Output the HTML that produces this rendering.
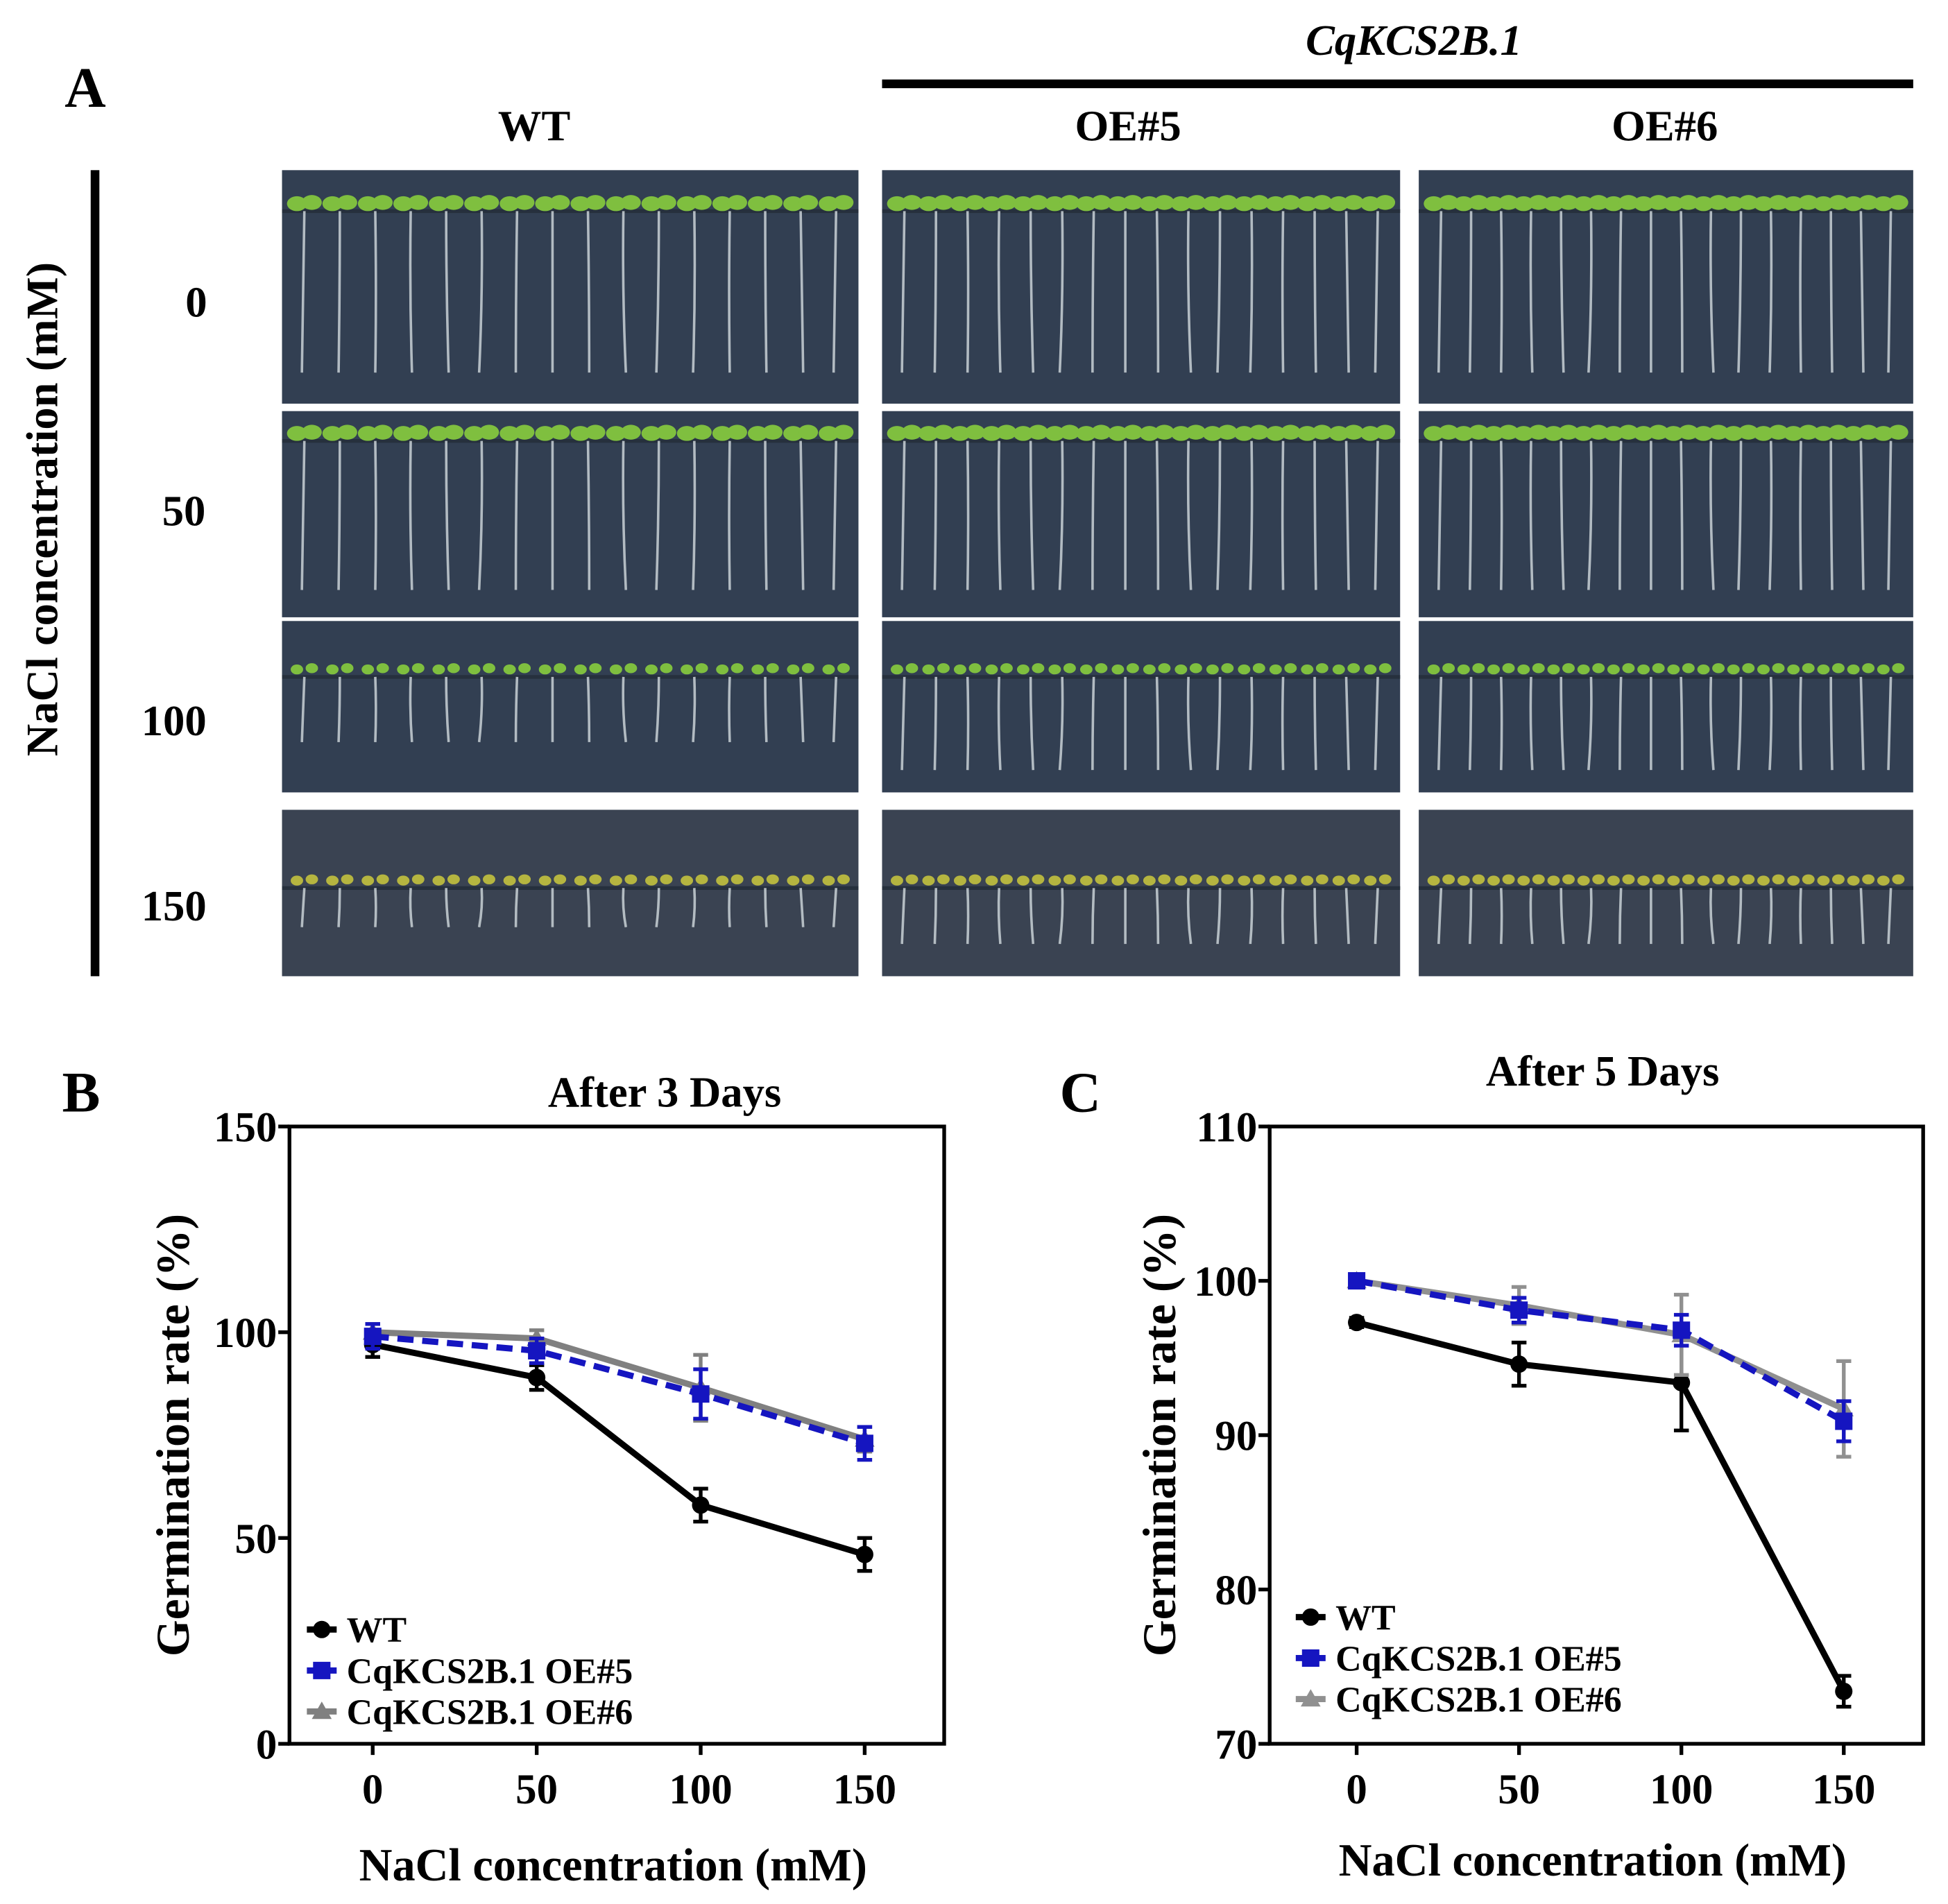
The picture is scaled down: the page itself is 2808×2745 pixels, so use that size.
<!DOCTYPE html>
<html><head><meta charset="utf-8">
<style>
html,body{margin:0;padding:0;background:#fff;}
svg{display:block;}
text{font-family:"Liberation Serif",serif;font-weight:bold;fill:#000;}
</style></head>
<body>
<svg id="fig" width="2808" height="2745" viewBox="0 0 1568 1533" preserveAspectRatio="none" xmlns="http://www.w3.org/2000/svg">
<g id="panelA">
  <text x="52" y="86" font-size="46">A</text>
  <text x="1138" y="44" font-size="35" text-anchor="middle" font-style="italic">CqKCS2B.1</text>
  <rect x="710" y="64" width="830" height="7" fill="#000"/>
  <text x="430" y="113" font-size="35" text-anchor="middle">WT</text>
  <text x="908" y="113" font-size="35" text-anchor="middle">OE#5</text>
  <text x="1340" y="113" font-size="35" text-anchor="middle">OE#6</text>
  <rect x="73" y="137" width="7" height="649" fill="#000"/>
  <text transform="translate(46,410) rotate(-90)" font-size="36" text-anchor="middle">NaCl concentration (mM)</text>
  <text x="158" y="255" font-size="35" text-anchor="middle">0</text>
  <text x="148" y="423" font-size="35" text-anchor="middle">50</text>
  <text x="140" y="592" font-size="35" text-anchor="middle">100</text>
  <text x="140" y="741" font-size="35" text-anchor="middle">150</text>
  <g id="photos"></g>
</g>
<g id="chartB"></g>
<g id="chartC"></g>
</svg>
<script>
// ----- Chart data -----
const categories = [0, 50, 100, 150];
const bWT = [97, 89, 58, 46];
const bWTerr = [3, 3, 4, 4];
const bOE5 = [99, 95.5, 85, 73];
const bOE5err = [3, 3, 6, 4];
const bOE6 = [100, 98.5, 86.5, 74];
const bOE6err = [2, 2, 8, 3];
const bTicks = [0, 50, 100, 150];
const cWT = [97.3, 94.6, 93.4, 73.4];
const cWTerr = [0.3, 1.4, 3.1, 1.0];
const cOE5 = [100, 98.1, 96.8, 90.9];
const cOE5err = [0.2, 0.8, 1.0, 1.3];
const cOE6 = [100, 98.4, 96.5, 91.7];
const cOE6err = [0.2, 1.2, 2.6, 3.1];
const cTicks = [70, 80, 90, 100, 110];
const legendLabels = ["WT", "CqKCS2B.1 OE#5", "CqKCS2B.1 OE#6"];

const NS = "http://www.w3.org/2000/svg";
function mk(tag, attrs, parent) {
  const e = document.createElementNS(NS, tag);
  for (const k in attrs) e.setAttribute(k, attrs[k]);
  parent.appendChild(e);
  return e;
}

// ----- Photo panels (decorative) -----
const photos = document.getElementById('photos');
const cols = [[227, 691], [710, 1127], [1142, 1540]];
const rows = [[137, 325, 170], [331, 497, 355], [500, 638, 545], [652, 786, 715]];
rows.forEach((r, ri) => {
  cols.forEach((c, ci) => {
    const g = mk('g', {}, photos);
    
    
    mk('rect', {x: c[0], y: r[0], width: c[1] - c[0], height: r[1] - r[0], fill: ri === 3 ? '#3a4352' : '#323f52'}, g);
    mk('line', {x1: c[0], y1: r[2], x2: c[1], y2: r[2], stroke: '#26303d', 'stroke-width': 3}, g);
    const n = 16;
    const len = [130, 120, 75, 45][ri] * (ci === 0 && ri >= 2 ? 0.7 : 1);
    for (let i = 0; i < n; i++) {
      const x = c[0] + 18 + i * (c[1] - c[0] - 36) / (n - 1);
      mk('path', {d: `M${x} ${r[2]} q${(i % 3) - 1} ${len / 2} ${(i % 5) - 2} ${len}`, stroke: '#c9d1d6', 'stroke-width': 2, fill: 'none', opacity: 0.85}, g);
      const leaf = ri === 3 ? '#b5b540' : '#7fbf3f';
      mk('ellipse', {cx: x - 6, cy: r[2] - 6, rx: ri >= 2 ? 5 : 8, ry: ri >= 2 ? 4 : 6, fill: leaf}, g);
      mk('ellipse', {cx: x + 6, cy: r[2] - 7, rx: ri >= 2 ? 5 : 8, ry: ri >= 2 ? 4 : 6, fill: leaf}, g);
    }
  });
});

// ----- Chart builder -----
function drawChart(gid, cfg) {
  const g = document.getElementById(gid);
  const {x0, x1, y0, y1, ymin, ymax, xpos, ticks, series, legendOrder, title, titleX, titleY, panel, panelX, panelY, ylabX, xlabY, legX, legY, legGap} = cfg;
  const sy = v => y1 - (v - ymin) / (ymax - ymin) * (y1 - y0);
  const sx = i => xpos[0] + i * (xpos[1] - xpos[0]);
  let e;
  e = mk('text', {x: panelX, y: panelY, 'font-size': 46}, g); e.textContent = panel;
  
  
  e = mk('text', {x: titleX, y: titleY, 'font-size': 35, 'text-anchor': 'middle'}, g); e.textContent = title;
  
  
  e = mk('rect', {x: x0, y: y0, width: x1 - x0, height: y1 - y0, fill: 'none', stroke: '#000', 'stroke-width': 3}, g);
  
  
  ticks.forEach(t => {
    const y = sy(t);
    mk('line', {x1: x0 - 9, x2: x0, y1: y, y2: y, stroke: '#000', 'stroke-width': 3}, g);
    e = mk('text', {x: x0 - 10, y: y + 12, 'font-size': 34, 'text-anchor': 'end'}, g); e.textContent = t;
    
    
  });
  categories.forEach((c, i) => {
    const x = sx(i);
    mk('line', {x1: x, x2: x, y1: y1, y2: y1 + 9, stroke: '#000', 'stroke-width': 3}, g);
    e = mk('text', {x: x, y: y1 + 48, 'font-size': 34, 'text-anchor': 'middle'}, g); e.textContent = c;
    
    
  });
  e = mk('text', {transform: `translate(${ylabX},${(y0 + y1) / 2}) rotate(-90)`, 'font-size': 38, 'text-anchor': 'middle'}, g);
  e.textContent = 'Germination rate (%)';
  
  
  e = mk('text', {x: (x0 + x1) / 2 - 3, y: xlabY, 'font-size': 37, 'text-anchor': 'middle'}, g);
  e.textContent = 'NaCl concentration (mM)';
  
  
  series.forEach(s => {
    const sg = mk('g', {}, g);
    
    
    const pts = s.vals.map((v, i) => sx(i) + ',' + sy(v)).join(' ');
    const attrs = {points: pts, fill: 'none', stroke: s.color, 'stroke-width': 5};
    if (s.dash) attrs['stroke-dasharray'] = '13 7';
    e = mk('polyline', attrs, sg);
    
    
    s.vals.forEach((v, i) => {
      const x = sx(i), ya = sy(v + s.err[i]), yb = sy(v - s.err[i]);
      mk('line', {x1: x, x2: x, y1: ya, y2: yb, stroke: s.color, 'stroke-width': 3}, sg);
      mk('line', {x1: x - 6, x2: x + 6, y1: ya, y2: ya, stroke: s.color, 'stroke-width': 3}, sg);
      mk('line', {x1: x - 6, x2: x + 6, y1: yb, y2: yb, stroke: s.color, 'stroke-width': 3}, sg);
      if (s.marker === 'circle') e = mk('circle', {cx: x, cy: sy(v), r: 7, fill: s.color}, sg);
      else if (s.marker === 'square') e = mk('rect', {x: x - 7, y: sy(v) - 7, width: 14, height: 14, fill: s.color}, sg);
      else e = mk('polygon', {points: `${x},${sy(v) - 8} ${x + 8},${sy(v) + 6} ${x - 8},${sy(v) + 6}`, fill: s.color}, sg);
      
      
    });
  });
  legendOrder.forEach((idx, li) => {
    const s = series[idx];
    const ly = legY + li * legGap;
    const lg = mk('g', {}, g);
    
    
    mk('line', {x1: legX, x2: legX + 24, y1: ly, y2: ly, stroke: s.color, 'stroke-width': 5}, lg);
    if (s.marker === 'circle') mk('circle', {cx: legX + 12, cy: ly, r: 7, fill: s.color}, lg);
    else if (s.marker === 'square') mk('rect', {x: legX + 5, y: ly - 7, width: 14, height: 14, fill: s.color}, lg);
    else mk('polygon', {points: `${legX + 12},${ly - 8} ${legX + 20},${ly + 6} ${legX + 4},${ly + 6}`, fill: s.color}, lg);
    const t = mk('text', {x: legX + 32, y: ly + 10, 'font-size': 29}, lg); t.textContent = legendLabels[li];
  });
}

drawChart('chartB', {
  x0: 233, x1: 760, y0: 907, y1: 1404, ymin: 0, ymax: 150, xpos: [300, 432], ticks: bTicks,
  title: 'After 3 Days', titleX: 535, titleY: 891, panel: 'B', panelX: 50, panelY: 895,
  ylabX: 152, xlabY: 1514, legX: 247, legY: 1312, legGap: 33,
  series: [
    {name: 'oe6', vals: bOE6, err: bOE6err, color: '#808080', marker: 'tri'},
    {name: 'wt', vals: bWT, err: bWTerr, color: '#000', marker: 'circle'},
    {name: 'oe5', vals: bOE5, err: bOE5err, color: '#1515c0', marker: 'square', dash: true}
  ],
  legendOrder: [1, 2, 0]
});
drawChart('chartC', {
  x0: 1022, x1: 1548, y0: 907, y1: 1404, ymin: 70, ymax: 110, xpos: [1092, 1222.7], ticks: cTicks,
  title: 'After 5 Days', titleX: 1290, titleY: 874, panel: 'C', panelX: 853, panelY: 895,
  ylabX: 946, xlabY: 1510, legX: 1043, legY: 1302, legGap: 33,
  series: [
    {name: 'wt', vals: cWT, err: cWTerr, color: '#000', marker: 'circle'},
    {name: 'oe6', vals: cOE6, err: cOE6err, color: '#909090', marker: 'tri'},
    {name: 'oe5', vals: cOE5, err: cOE5err, color: '#1515c0', marker: 'square', dash: true}
  ],
  legendOrder: [0, 2, 1]
});
</script>
</body></html>
